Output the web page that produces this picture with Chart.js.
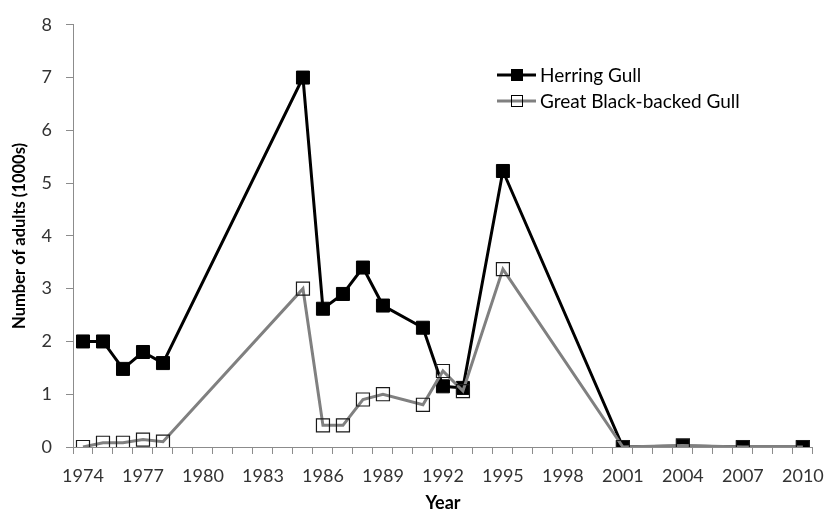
<!DOCTYPE html>
<html>
<head>
<meta charset="utf-8">
<script src="https://cdn.jsdelivr.net/npm/chart.js@4/dist/chart.umd.min.js"></script>
<style>
html,body{margin:0;padding:0;background:#fff;}
#wrap{width:835px;height:516px;position:relative;}
</style>
</head>
<body>
<div id="wrap"><canvas id="c" width="835" height="516"></canvas></div>
<script>
// Category labels (every year on the axis)
const yearLabels = ['1974','1975','1976','1977','1978','1979','1980','1981','1982','1983','1984','1985','1986','1987','1988','1989','1990','1991','1992','1993','1994','1995','1996','1997','1998','1999','2000','2001','2002','2003','2004','2005','2006','2007','2008','2009','2010'];
// Survey years
const surveyYears = ['1974','1975','1976','1977','1978','1985','1986','1987','1988','1989','1991','1992','1993','1995','2001','2004','2007','2010'];
// Series values (thousands of adults)
const herringGull = [2.0,2.0,1.48,1.8,1.59,7.0,2.62,2.9,3.4,2.68,2.26,1.15,1.12,5.23,0,0.02,0,0];
const greatBlackBacked = [0.0,0.08,0.08,0.14,0.1,3.0,0.41,0.41,0.9,1.0,0.8,1.44,1.06,3.37,0,0.03,0,0];
const yTicks = [0,1,2,3,4,5,6,7,8];

const FONT = 'Lato, "Open Sans", sans-serif';
const toPts = (vals) => surveyYears.map((y, i) => ({x: y, y: vals[i]}));

const legendPlugin = {
  id: 'insideLegend',
  afterDatasetsDraw(chart) {
    const ctx = chart.ctx;
    const items = [
      {text: 'Herring Gull', line: '#000000', fill: '#000000', y: 75},
      {text: 'Great Black-backed Gull', line: '#808080', fill: null, y: 101}
    ];
    ctx.save();
    items.forEach(it => {
      ctx.strokeStyle = it.line; ctx.lineWidth = 3;
      ctx.beginPath(); ctx.moveTo(497, it.y); ctx.lineTo(536, it.y); ctx.stroke();
      ctx.lineWidth = 1; ctx.strokeStyle = '#000';
      if (it.fill) { ctx.fillStyle = it.fill; ctx.fillRect(511, it.y - 5.5, 11, 11); }
      ctx.strokeRect(511.5, it.y - 5.5, 11, 11);
      ctx.fillStyle = '#000';
      ctx.font = '19px ' + FONT;
      ctx.textBaseline = 'middle'; ctx.textAlign = 'left';
      ctx.fillText(it.text, 540, it.y + 1);
    });
    ctx.restore();
  }
};

new Chart(document.getElementById('c'), {
  type: 'line',
  data: {
    labels: yearLabels,
    datasets: [
      {
        label: 'Herring Gull',
        data: toPts(herringGull),
        borderColor: '#000000', borderWidth: 3,
        pointStyle: 'rect', pointRadius: 9.2,
        pointBackgroundColor: '#000000', pointBorderColor: '#000000', pointBorderWidth: 1,
        tension: 0, order: 2
      },
      {
        label: 'Great Black-backed Gull',
        data: toPts(greatBlackBacked),
        borderColor: '#808080', borderWidth: 3,
        pointStyle: 'rect', pointRadius: 9.2,
        pointBackgroundColor: 'rgba(0,0,0,0)', pointBorderColor: '#1a1a1a', pointBorderWidth: 1.2,
        tension: 0, order: 1
      }
    ]
  },
  options: {
    responsive: false,
    animation: false,
    layout: {padding: {left: 0, right: 18, top: 15, bottom: 0}},
    plugins: {legend: {display: false}, tooltip: {enabled: false}},
    scales: {
      x: {
        type: 'category',
        offset: true,
        border: {color: '#8c8c8c', width: 1},
        grid: {offset: true, drawOnChartArea: false, drawTicks: true, tickLength: 7, color: '#8c8c8c'},
        ticks: {
          autoSkip: false, maxRotation: 0, padding: 11, color: '#333333',
          font: {family: FONT, size: 18},
          callback: function(v, i) { return i % 3 === 0 ? this.getLabelForValue(v) : ''; }
        },
        title: {display: true, text: 'Year', color: '#000', font: {family: FONT, size: 18, weight: 'bold'}, padding: {top: 0, bottom: 2}},
        afterFit: s => { s.height = 69; }
      },
      y: {
        min: 0, max: 8,
        border: {color: '#8c8c8c', width: 1},
        grid: {drawOnChartArea: false, drawTicks: true, tickLength: 7, color: '#8c8c8c'},
        afterBuildTicks: s => { s.ticks = yTicks.map(v => ({value: v})); },
        ticks: {padding: 14, color: '#333333', font: {family: FONT, size: 18}},
        title: {display: true, text: 'Number of adults (1000s)', color: '#000', font: {family: FONT, size: 16.5, weight: 'bold'}, padding: {top: 10, bottom: 0}},
        afterFit: s => { s.width = 73; }
      }
    }
  },
  plugins: [legendPlugin]
});
</script>
</body>
</html>
